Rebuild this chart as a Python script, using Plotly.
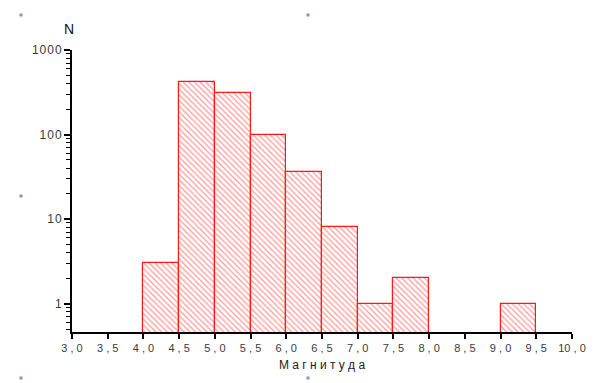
import plotly.graph_objects as go

# Magnitude histogram: bin centres (bins are 0.5 wide) and event counts
bin_centers = [4.25, 4.75, 5.25, 5.75, 6.25, 6.75, 7.25, 7.75, 9.25]
counts = [3, 420, 310, 99, 36, 8, 1, 2, 1]
bin_width = 0.5

x_tick_vals = [3.0 + 0.5 * i for i in range(15)]
x_tick_text = [f"{v:.1f}".replace(".", " , ") for v in x_tick_vals]
y_tick_vals = [1, 10, 100, 1000]
y_tick_text = ["\u200a".join(s) for s in ["1", "10", "100", "1000"]]
y_minor_vals = [m * 10 ** e for e in range(-1, 3) for m in range(2, 10)] + [0.5]

font_color = "#3a3a3a"

fig = go.Figure(
    go.Bar(
        x=bin_centers,
        y=counts,
        width=bin_width,
        marker=dict(
            color="white",
            line=dict(color="#ff1a1a", width=1.2),
            pattern=dict(shape="\\", fgcolor="#ff3030", bgcolor="white",
                         size=4, solidity=0.3),
        ),
        showlegend=False,
    )
)

fig.update_layout(
    width=597,
    height=383,
    margin=dict(l=72, r=25, t=50, b=51),
    plot_bgcolor="white",
    paper_bgcolor="white",
    font=dict(family="Liberation Sans, Arial", color=font_color, size=11),
    bargap=0,
)

fig.update_xaxes(
    range=[3.0, 10.0],
    tickvals=x_tick_vals,
    ticktext=x_tick_text,
    ticks="outside",
    ticklen=5,
    tickwidth=1.5,
    tickcolor="black",
    showline=True,
    linecolor="black",
    linewidth=1.5,
    showgrid=False,
    zeroline=False,
    tickfont=dict(size=11, color=font_color),
    title=dict(text="М а г н и т у д а", font=dict(size=12, color="#222"), standoff=8),
)

fig.update_yaxes(
    type="log",
    range=[-0.336, 3.0],
    tickvals=y_tick_vals,
    ticktext=y_tick_text,
    ticks="outside",
    ticklen=6,
    tickwidth=1.5,
    tickcolor="black",
    minor=dict(tickvals=y_minor_vals, ticks="outside", ticklen=4,
               tickwidth=1.2, tickcolor="black", showgrid=False),
    showline=True,
    linecolor="black",
    linewidth=2,
    showgrid=False,
    zeroline=False,
    tickfont=dict(size=12, color=font_color),
)

# Axis name for counts, placed above the vertical axis
fig.add_annotation(
    text="N", xref="paper", yref="paper", x=0, y=1,
    xanchor="center", yanchor="middle",
    xshift=-3, yshift=21, showarrow=False,
    font=dict(size=14, color="#111", family="Liberation Sans, Arial"),
)

# Small frame handles around the graphic
handles = [(21, 15), (308, 15), (21, 196), (21, 378), (308, 378)]
for hx, hy in handles:
    fig.add_shape(
        type="rect", xref="paper", yref="paper",
        x0=(hx - 1.5 - 72) / 500, x1=(hx + 1.5 - 72) / 500,
        y0=(332 - hy - 1.5) / 282, y1=(332 - hy + 1.5) / 282,
        fillcolor="#7f96c0", line=dict(width=0),
    )

fig.write_html("out.html")
